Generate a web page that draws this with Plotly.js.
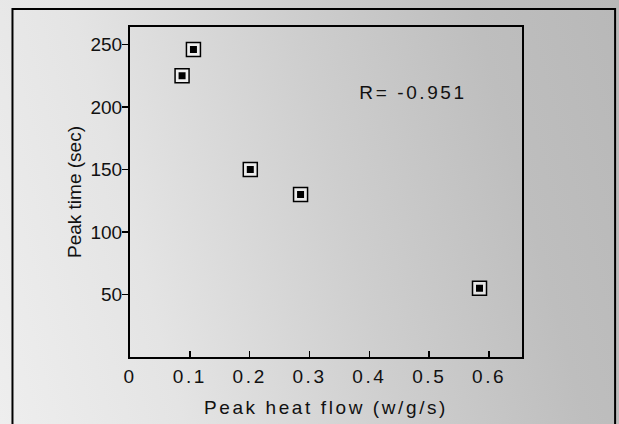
<!DOCTYPE html>
<html>
<head>
<meta charset="utf-8">
<script src="https://cdn.plot.ly/plotly-3.0.1.min.js"></script>
<style>
  html, body { margin: 0; padding: 0; }
  #chart {
    width: 619px; height: 424px;
    background: linear-gradient(75deg, #eeeeee 0%, #e4e4e4 25%, #cecece 55%, #bebebe 80%, #b8b8b8 100%);
  }
  #chart .xtick text, #chart .g-xtitle text, #chart .annotation-text { letter-spacing: 2.6px; }
</style>
</head>
<body>
<div id="chart"></div>
<script>
// Data
const peakHeatFlow = [0.087, 0.106, 0.201, 0.285, 0.584];   // w/g/s
const peakTime     = [225, 246, 150, 130, 55];              // sec
const xTickVals = [0, 0.1, 0.2, 0.3, 0.4, 0.5, 0.6];
const xTickText = ['0', '0.1', '0.2', '0.3', '0.4', '0.5', '0.6'];
const yTickVals = [50, 100, 150, 200, 250];
const yTickText = ['50', '100', '150', '200', '250'];
const corrLabel = 'R= -0.951';

const traces = [
  {
    x: peakHeatFlow, y: peakTime, type: 'scatter', mode: 'markers',
    marker: { symbol: 'square', size: 14, color: 'rgba(255,255,255,0.55)', line: { color: '#000', width: 1.5 } },
    hoverinfo: 'skip', showlegend: false
  },
  {
    x: peakHeatFlow, y: peakTime, type: 'scatter', mode: 'markers',
    marker: { symbol: 'square', size: 7, color: '#000', line: { width: 0 } },
    showlegend: false
  }
];

const layout = {
  width: 619, height: 424,
  margin: { l: 130, r: 97, t: 27, b: 67 },
  paper_bgcolor: 'rgba(0,0,0,0)',
  plot_bgcolor: 'rgba(0,0,0,0)',
  font: { family: '"Liberation Sans", Arial, sans-serif', color: '#111', size: 19 },
  showlegend: false,
  xaxis: {
    range: [0, 0.655], tickmode: 'array', tickvals: xTickVals, ticktext: xTickText,
    ticks: 'inside', ticklen: 6, tickwidth: 1.5, tickcolor: '#000',
    showline: true, linecolor: '#000', linewidth: 2, mirror: true,
    showgrid: false, zeroline: false,
    ticklabelstandoff: 1,
    tickfont: { size: 19 },
    title: { text: 'Peak heat flow (w/g/s)', font: { size: 19 }, standoff: 15 }
  },
  yaxis: {
    range: [0, 264], tickmode: 'array', tickvals: yTickVals, ticktext: yTickText,
    ticks: 'outside', ticklen: 6, tickwidth: 1.5, tickcolor: '#000',
    showline: true, linecolor: '#000', linewidth: 2, mirror: true,
    showgrid: false, zeroline: false,
    ticklabelstandoff: -4,
    tickfont: { size: 19 },
    title: { text: 'Peak time (sec)', font: { size: 19 }, standoff: 4 }
  },
  annotations: [
    { x: 0.4725, y: 212, xref: 'x', yref: 'y', text: corrLabel, showarrow: false,
      font: { size: 19, color: '#111' }, xanchor: 'center', yanchor: 'middle' }
  ],
  shapes: [
    { type: 'rect', xref: 'paper', yref: 'paper',
      x0: -0.2998, x1: 1.2375, y0: -0.25, y1: 1.0545,
      line: { color: '#000', width: 2 }, fillcolor: 'rgba(0,0,0,0)', layer: 'below' }
  ]
};

Plotly.newPlot('chart', traces, layout, { displayModeBar: false, staticPlot: true });
</script>
</body>
</html>
